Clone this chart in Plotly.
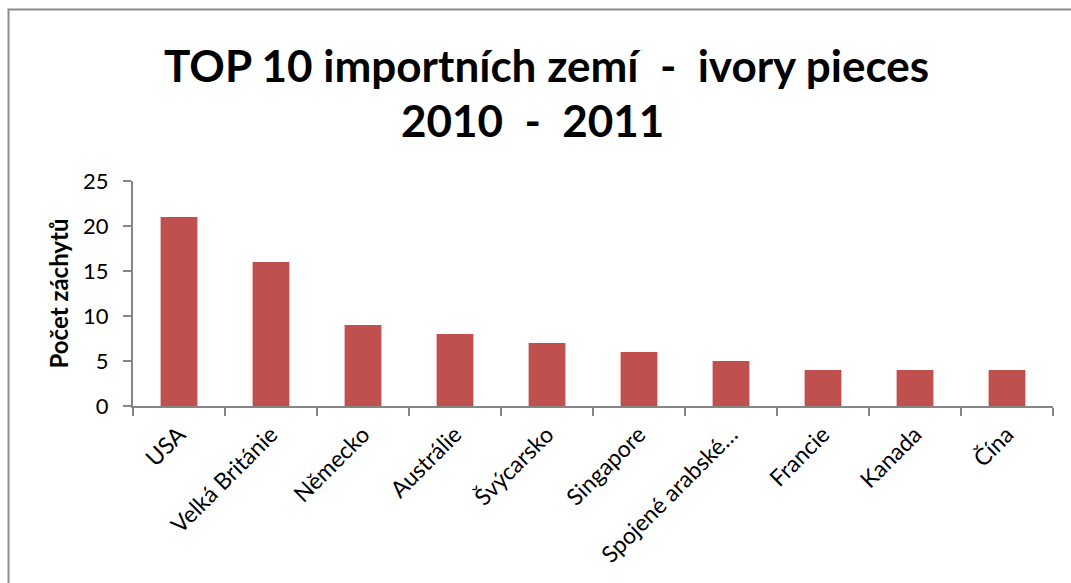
import plotly.graph_objects as go

# Import seizures by destination country
countries = ["USA", "Velká Británie", "Německo", "Austrálie", "Švýcarsko",
             "Singapore", "Spojené arabské…", "Francie", "Kanada", "Čína"]
seizures = [21, 16, 9, 8, 7, 6, 5, 4, 4, 4]

y_ticks = [0, 5, 10, 15, 20, 25]

title_lines = ["TOP 10 importních zemí  -  ivory pieces", "2010  -  2011"]

FONT = "Lato"
AXIS_GREY = "#868686"

W, H = 1071, 583
L, R, T, B = 133, 18, 181, 177
plot_w = W - L - R
plot_h = H - T - B


def px_to_paper_x(px):
    return (px - L) / plot_w


def px_to_paper_y(py):
    return (H - B - py) / plot_h


fig = go.Figure(
    go.Bar(
        x=countries,
        y=seizures,
        marker=dict(color="#C0504D", line=dict(width=0)),
        width=0.4,
    )
)

# two-line heading placed as annotations
title_centres = [(546, 65), (532, 120)]
annotations = [
    dict(
        text=f"<b>{line}</b>",
        xref="paper", yref="paper",
        x=px_to_paper_x(cx), y=px_to_paper_y(cy),
        xanchor="center", yanchor="middle",
        showarrow=False,
        font=dict(family=FONT, size=44, color="black"),
    )
    for line, (cx, cy) in zip(title_lines, title_centres)
]

fig.update_layout(
    width=W,
    height=H,
    margin=dict(l=L, r=R, t=T, b=B, autoexpand=False),
    paper_bgcolor="white",
    plot_bgcolor="white",
    showlegend=False,
    font=dict(family=FONT, color="black", size=22),
    annotations=annotations,
    shapes=[
        dict(
            type="rect",
            xref="paper", yref="paper",
            x0=px_to_paper_x(8.5), x1=px_to_paper_x(W + 20),
            y0=px_to_paper_y(H + 20), y1=px_to_paper_y(9.5),
            line=dict(color="#8c8c8c", width=2),
            fillcolor="rgba(0,0,0,0)",
            layer="below",
        )
    ],
)

fig.update_xaxes(
    type="category",
    tickangle=-45,
    tickson="boundaries",
    ticks="outside",
    ticklen=8,
    tickcolor=AXIS_GREY,
    tickwidth=2,
    showline=True,
    linecolor=AXIS_GREY,
    linewidth=2,
    showgrid=False,
    ticklabelstandoff=4,
    tickfont=dict(family=FONT, size=23, color="black"),
)

fig.update_yaxes(
    range=[0, 25],
    tickvals=y_ticks,
    ticks="outside",
    ticklen=8,
    tickcolor=AXIS_GREY,
    tickwidth=2,
    showline=True,
    linecolor=AXIS_GREY,
    linewidth=2,
    showgrid=False,
    zeroline=False,
    ticklabelstandoff=10,
    tickfont=dict(family=FONT, size=22, color="black"),
    title=dict(
        text="<b>Počet záchytů</b>",
        font=dict(family=FONT, size=24, color="black"),
        standoff=8,
    ),
)

fig.write_html("out.html")
